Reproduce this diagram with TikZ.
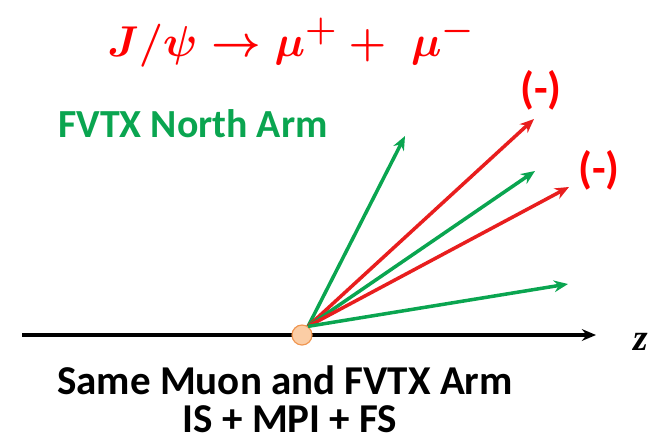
\documentclass[tikz,border=0pt]{standalone}
\usepackage{fontspec}
\setmainfont{Carlito}
\newfontfamily\zfont{Liberation Serif}
\usepackage{amsmath,amssymb}
\usepackage{graphicx}
\usepackage{tikz}
\usetikzlibrary{arrows.meta,positioning}

\definecolor{trkgreen}{RGB}{10,165,80}
\definecolor{trkred}{RGB}{232,30,30}
\definecolor{vtxfill}{RGB}{251,205,165}
\definecolor{vtxdraw}{RGB}{240,150,80}

\begin{document}
\begin{tikzpicture}[
	x=0.03cm, y=-0.03cm,
	>={Stealth[length=12pt,width=10pt]},
	trk/.style={->, line width=3pt},
	vtx/.style={circle, draw=vtxdraw, fill=vtxfill, line width=1pt, minimum size=0.6cm, inner sep=0pt},
	lbl/.style={font=\bfseries\fontsize{38}{40}\selectfont, text=red, inner sep=0pt},
	captxt/.style={font=\bfseries\fontsize{35}{38}\selectfont, inner sep=0pt, anchor=base},
	title/.style={font=\fontsize{24.88}{30}\selectfont\boldmath, text=red, inner sep=0pt, anchor=base},
]
\useasboundingbox (0,0) rectangle (651,441);
% z axis
\coordinate (a0) at (22,335);
\coordinate (a1) at (596,335);
\draw[->, line width=3pt] (a0) -- (a1);
\node[font=\zfont\bfseries\itshape\fontsize{32}{32}\selectfont, inner sep=0pt, anchor=base west] (z) at (633,350) {z};
% vertex
\node[vtx] (o) at (302,335) {};
\coordinate (s) at (o.55);
% track ends
\coordinate (g1) at (405,136);
\coordinate (r1) at (534,119);
\coordinate (g2) at (535,171);
\coordinate (r2) at (569,187);
\coordinate (g3) at (568,284);
\draw[trk, trkgreen] (s) -- (g1);
\draw[trk, trkred] (s) -- (r1);
\draw[trk, trkgreen] (s) -- (g2);
\draw[trk, trkred] (s) -- (r2);
\draw[trk, trkgreen] (s) -- (g3);
% labels
\node[lbl] (m1) at (541,90) {(-)};
\node[lbl] (m2) at (599,170) {(-)};
\node[font=\bfseries\fontsize{34}{36}\selectfont, text=trkgreen, inner sep=0pt, anchor=base] (arm) at (193,137) {FVTX North Arm};
\node[title] (dec) at (291,56) {\scalebox{1.48}{$J/\psi\rightarrow\mu^{+}+\;\mu^{-}$}};
\node[captxt] (cap1) at (285,394) {Same Muon and FVTX Arm};
\node[captxt] (cap2) at (290,432) {IS + MPI + FS};
\end{tikzpicture}
\end{document}
